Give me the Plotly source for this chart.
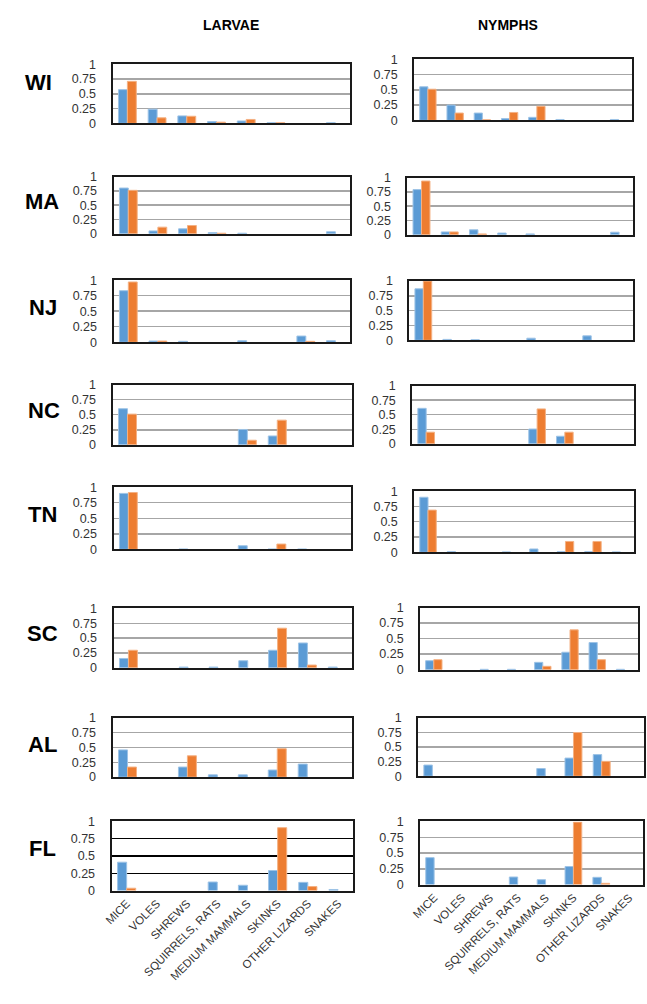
import plotly.graph_objects as go

categories = ["MICE", "VOLES", "SHREWS", "SQUIRRELS, RATS", "MEDIUM MAMMALS",
              "SKINKS", "OTHER LIZARDS", "SNAKES"]
states = ["WI", "MA", "NJ", "NC", "TN", "SC", "AL", "FL"]
y_tickvals = [0, 0.25, 0.5, 0.75, 1]
y_ticktext = ["0", "0.25", "0.5", "0.75", "1"]

# ---- data ----
wi_larvae_blue = [0.57, 0.24, 0.126, 0.03, 0.04, 0.01, 0, 0.01]
wi_larvae_orange = [0.71, 0.093, 0.12, 0.02, 0.066, 0.01, 0, 0]
wi_nymph_blue = [0.55, 0.25, 0.12, 0.03, 0.05, 0.015, 0, 0.015]
wi_nymph_orange = [0.51, 0.12, 0.01, 0.13, 0.23, 0, 0, 0]

ma_larvae_blue = [0.80, 0.05, 0.087, 0.02, 0.01, 0, 0, 0.035]
ma_larvae_orange = [0.76, 0.116, 0.145, 0.01, 0, 0, 0, 0]
ma_nymph_blue = [0.79, 0.05, 0.087, 0.03, 0.015, 0, 0, 0.045]
ma_nymph_orange = [0.94, 0.05, 0.015, 0, 0, 0, 0, 0]

nj_larvae_blue = [0.83, 0.02, 0.015, 0, 0.025, 0, 0.10, 0.025]
nj_larvae_orange = [0.97, 0.02, 0, 0, 0, 0, 0.015, 0]
nj_nymph_blue = [0.87, 0.015, 0.01, 0, 0.035, 0, 0.075, 0]
nj_nymph_orange = [1.0, 0, 0, 0, 0, 0, 0, 0]

nc_larvae_blue = [0.60, 0, 0, 0, 0.255, 0.147, 0, 0]
nc_larvae_orange = [0.51, 0, 0, 0, 0.076, 0.41, 0, 0]
nc_nymph_blue = [0.61, 0, 0, 0, 0.254, 0.13, 0, 0]
nc_nymph_orange = [0.20, 0, 0, 0, 0.60, 0.20, 0, 0]

tn_larvae_blue = [0.90, 0, 0.005, 0, 0.058, 0.005, 0.005, 0]
tn_larvae_orange = [0.915, 0, 0, 0, 0, 0.085, 0, 0]
tn_nymph_blue = [0.90, 0.01, 0, 0.005, 0.054, 0.01, 0.01, 0.005]
tn_nymph_orange = [0.69, 0, 0, 0, 0, 0.177, 0.177, 0]

sc_larvae_blue = [0.155, 0, 0.01, 0.01, 0.117, 0.294, 0.417, 0.01]
sc_larvae_orange = [0.294, 0, 0, 0, 0, 0.667, 0.044, 0]
sc_nymph_blue = [0.144, 0, 0.005, 0.005, 0.117, 0.28, 0.436, 0.005]
sc_nymph_orange = [0.16, 0, 0, 0, 0.053, 0.64, 0.16, 0]

al_larvae_blue = [0.46, 0, 0.17, 0.038, 0.038, 0.12, 0.22, 0]
al_larvae_orange = [0.17, 0, 0.36, 0, 0, 0.48, 0, 0]
al_nymph_blue = [0.19, 0, 0, 0, 0.13, 0.31, 0.37, 0]
al_nymph_orange = [0, 0, 0, 0, 0, 0.75, 0.254, 0]

fl_larvae_blue = [0.41, 0, 0, 0.123, 0.076, 0.29, 0.118, 0.015]
fl_larvae_orange = [0.033, 0, 0, 0, 0, 0.91, 0.057, 0]
fl_nymph_blue = [0.427, 0, 0, 0.12, 0.078, 0.286, 0.115, 0]
fl_nymph_orange = [0, 0, 0, 0, 0, 0.99, 0.02, 0]

larvae = {
    "WI": (wi_larvae_blue, wi_larvae_orange), "MA": (ma_larvae_blue, ma_larvae_orange),
    "NJ": (nj_larvae_blue, nj_larvae_orange), "NC": (nc_larvae_blue, nc_larvae_orange),
    "TN": (tn_larvae_blue, tn_larvae_orange), "SC": (sc_larvae_blue, sc_larvae_orange),
    "AL": (al_larvae_blue, al_larvae_orange), "FL": (fl_larvae_blue, fl_larvae_orange),
}
nymphs = {
    "WI": (wi_nymph_blue, wi_nymph_orange), "MA": (ma_nymph_blue, ma_nymph_orange),
    "NJ": (nj_nymph_blue, nj_nymph_orange), "NC": (nc_nymph_blue, nc_nymph_orange),
    "TN": (tn_nymph_blue, tn_nymph_orange), "SC": (sc_nymph_blue, sc_nymph_orange),
    "AL": (al_nymph_blue, al_nymph_orange), "FL": (fl_nymph_blue, fl_nymph_orange),
}

# ---- layout geometry (pixels) ----
W, H = 647, 1004
left_boxes = [(105, 346, 58, 118), (106, 346, 172, 230), (106, 346, 277, 340),
              (105, 348, 383, 444), (106, 347, 487, 550), (106, 348, 610, 670),
              (105, 348, 721, 781), (104, 349, 826, 896)]
right_boxes = [(411, 632, 53, 115), (404, 633, 173, 231), (406, 633, 278, 338),
               (409, 634, 384, 443), (411, 634, 491, 553), (417, 638, 609, 672),
               (415, 644, 721, 780), (417, 643, 826, 890)]
label_pos = [(30, 77), (33, 197), (34, 305), (35, 409), (34, 515), (34, 635),
             (34, 748), (34, 853)]

BLUE, BLUE_EDGE = "#5B9BD5", "#9DC3E6"
ORANGE, ORANGE_EDGE = "#ED7D31", "#F4B183"
FONT = "Liberation Sans, Arial, sans-serif"


def edge_widths(vals):
    return [1 if v > 0 else 0 for v in vals]


fig = go.Figure()
layout = {}
k = 0
for col, (boxes, data) in enumerate([(left_boxes, larvae), (right_boxes, nymphs)]):
    for r, st in enumerate(states):
        k += 1
        blue, orange = data[st]
        xa, ya = f"x{k}", f"y{k}"
        fig.add_trace(go.Bar(x=categories, y=blue,
                             marker=dict(color=BLUE, line=dict(color=BLUE_EDGE, width=edge_widths(blue))),
                             xaxis=xa, yaxis=ya, showlegend=False, offsetgroup="a"))
        fig.add_trace(go.Bar(x=categories, y=orange,
                             marker=dict(color=ORANGE, line=dict(color=ORANGE_EDGE, width=edge_widths(orange))),
                             xaxis=xa, yaxis=ya, showlegend=False, offsetgroup="b"))
        x0, x1, y0, y1 = boxes[r]
        last = (st == "FL")
        grid = "#000000" if (last and col == 0) else "#A6A6A6"
        layout[f"xaxis{k}"] = dict(
            domain=[x0 / W, x1 / W], anchor=ya, range=[-0.5, 7.5],
            showline=True, mirror=True, linecolor="#1a1a1a", linewidth=2,
            showgrid=False, zeroline=False, ticks="",
            showticklabels=last, tickangle=-45,
            tickfont=dict(family=FONT, size=11.5, color="#333333"),
            categoryorder="array", categoryarray=categories, fixedrange=True)
        layout[f"yaxis{k}"] = dict(
            domain=[1 - y1 / H, 1 - y0 / H], anchor=xa, range=[0, 1],
            tickvals=y_tickvals, ticktext=y_ticktext,
            showline=True, mirror=True, linecolor="#1a1a1a", linewidth=2,
            showgrid=True, gridcolor=grid, gridwidth=1.5, zeroline=False,
            ticks="", ticklabelstandoff=12,
            tickfont=dict(family=FONT, size=12.5, color="#333333"), fixedrange=True)

annotations = []
for st, (px, py) in zip(states, label_pos):
    annotations.append(dict(text=f"<b>{st}</b>", x=px / W, y=1 - py / H, xref="paper", yref="paper",
                            showarrow=False, xanchor="center", yanchor="middle",
                            font=dict(family=FONT, size=22, color="#000000")))
for txt, px in [("LARVAE", 225), ("NYMPHS", 506)]:
    annotations.append(dict(text=f"<b>{txt}</b>", x=px / W, y=1 - 18 / H, xref="paper", yref="paper",
                            showarrow=False, xanchor="center", yanchor="middle",
                            font=dict(family=FONT, size=14, color="#000000")))

fig.update_layout(**layout)
fig.update_layout(width=W, height=H, autosize=False, margin=dict(l=0, r=0, t=0, b=0),
                  paper_bgcolor="white", plot_bgcolor="white", barmode="group",
                  bargap=0.4, bargroupgap=0, annotations=annotations, hovermode=False)
fig.write_html(
    "out.html",
    config={"displayModeBar": False, "staticPlot": True},
    post_script=("document.body.style.margin='0px';"
                 "document.body.style.overflow='hidden';"
                 "document.documentElement.style.overflow='hidden';"),
)
